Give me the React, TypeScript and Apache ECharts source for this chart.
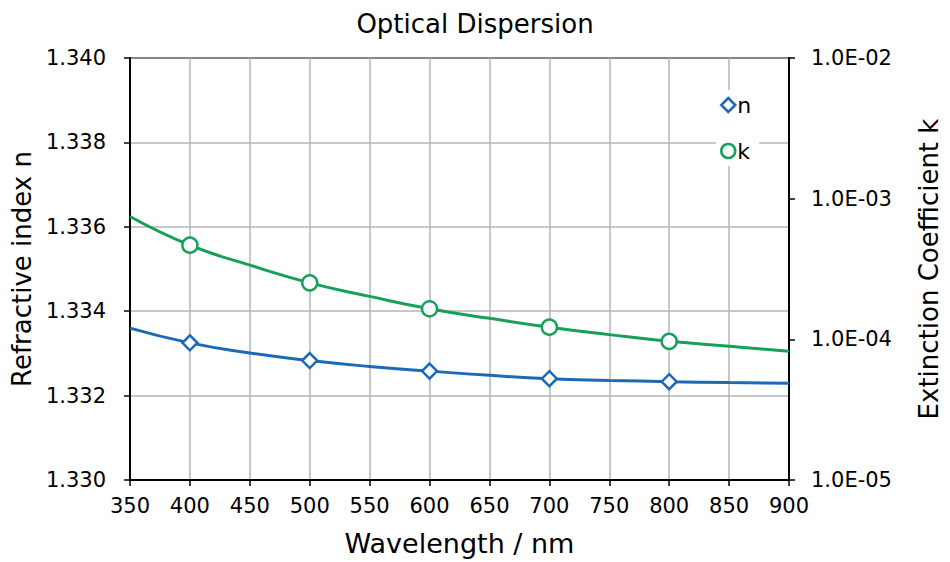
import React, { useEffect, useRef } from "react";
import * as echarts from "echarts";

const wavelengths = [350, 400, 450, 500, 550, 600, 650, 700, 750, 800, 850, 900];
const nValues = [1.3336, 1.33325, 1.33301, 1.33283, 1.33269, 1.33258, 1.33248, 1.3324, 1.33236, 1.33233, 1.33231, 1.33229];
const kValues = [7.47e-4, 4.67e-4, 3.37e-4, 2.52e-4, 2.02e-4, 1.65e-4, 1.41e-4, 1.22e-4, 1.08e-4, 9.68e-5, 8.93e-5, 8.22e-5];
const markedWavelengths = [400, 500, 600, 700, 800];

const BLUE = "#1c69b6";
const GREEN = "#17a057";
const FONT = "'DejaVu Sans', Verdana, sans-serif";

export default function App() {
  const ref = useRef<HTMLDivElement>(null);
  useEffect(() => {
    if (!ref.current) return;
    const chart = echarts.init(ref.current, undefined, { renderer: "svg" });
    const mk = (vals: number[]) =>
      wavelengths.map((w, i) =>
        markedWavelengths.includes(w) ? { value: [w, vals[i]] } : { value: [w, vals[i]], symbol: "none" }
      );
    chart.setOption({
      animation: false,
      backgroundColor: "#fff",
      textStyle: { fontFamily: FONT, color: "#000" },
      title: {
        text: "Optical Dispersion",
        left: "center",
        top: 6,
        textStyle: { fontFamily: FONT, fontSize: 26, fontWeight: "normal", color: "#000" },
      },
      grid: {
        left: 130,
        right: 155,
        top: 58,
        bottom: 78,
        show: true,
        borderColor: "#000",
        borderWidth: 2,
      },
      legend: {
        orient: "vertical",
        left: 716,
        top: 90,
        itemGap: 24,
        itemWidth: 14,
        itemHeight: 14,
        backgroundColor: "#fff",
        padding: [4, 8, 4, 4],
        textStyle: { fontFamily: FONT, fontSize: 22, color: "#000", padding: [0, 0, 0, -3] },
        data: [
          { name: "n", icon: "diamond", itemStyle: { color: "#fff", borderColor: BLUE, borderWidth: 2.5 } },
          { name: "k", icon: "circle", itemStyle: { color: "#fff", borderColor: GREEN, borderWidth: 2.5 } },
        ],
      },
      xAxis: {
        type: "value",
        min: 350,
        max: 900,
        interval: 50,
        name: "Wavelength / nm",
        nameLocation: "middle",
        nameGap: 50,
        nameTextStyle: { fontFamily: FONT, fontSize: 27, color: "#000" },
        axisLine: { lineStyle: { color: "#000", width: 2 } },
        axisTick: { show: true, length: 6, lineStyle: { color: "#000", width: 1.5 } },
        axisLabel: { fontFamily: FONT, fontSize: 21, color: "#000", margin: 15 },
        splitLine: { show: true, lineStyle: { color: "#b4b4b4", width: 1.5 } },
      },
      yAxis: [
        {
          type: "value",
          min: 1.33,
          max: 1.34,
          interval: 0.002,
          name: "Refractive index n",
          nameLocation: "middle",
          nameGap: 92,
          nameTextStyle: { fontFamily: FONT, fontSize: 26, color: "#000" },
          axisLine: { show: true, lineStyle: { color: "#000", width: 2 } },
          axisTick: { show: true, length: 6, lineStyle: { color: "#000", width: 1.5 } },
          axisLabel: {
            fontFamily: FONT,
            fontSize: 21,
            color: "#000",
            margin: 24,
            formatter: (v: number) => v.toFixed(3),
          },
          splitLine: { show: true, lineStyle: { color: "#b4b4b4", width: 1.5 } },
        },
        {
          type: "log",
          logBase: 10,
          min: 1e-5,
          max: 1e-2,
          position: "right",
          name: "Extinction Coefficient k",
          nameLocation: "middle",
          nameGap: 127,
          nameRotate: 90,
          nameTextStyle: { fontFamily: FONT, fontSize: 26, color: "#000" },
          axisLine: { show: true, lineStyle: { color: "#000", width: 2 } },
          axisTick: { show: true, length: 6, lineStyle: { color: "#000", width: 1.5 } },
          axisLabel: {
            fontFamily: FONT,
            fontSize: 21,
            color: "#000",
            margin: 22,
            formatter: (v: number) => {
              const e = Math.round(Math.log10(v));
              const m = v / Math.pow(10, e);
              const sign = e < 0 ? "-" : "+";
              return m.toFixed(1) + "E" + sign + String(Math.abs(e)).padStart(2, "0");
            },
          },
          splitLine: { show: false },
        },
      ],
      series: [
        {
          name: "n",
          type: "line",
          yAxisIndex: 0,
          smooth: true,
          symbol: "diamond",
          symbolSize: 15,
          showAllSymbol: true,
          lineStyle: { color: BLUE, width: 3 },
          itemStyle: { color: "#fff", borderColor: BLUE, borderWidth: 2.5 },
          data: mk(nValues),
          z: 3,
        },
        {
          name: "k",
          type: "line",
          yAxisIndex: 1,
          smooth: true,
          symbol: "circle",
          symbolSize: 15,
          showAllSymbol: true,
          lineStyle: { color: GREEN, width: 3 },
          itemStyle: { color: "#fff", borderColor: GREEN, borderWidth: 2.5 },
          data: mk(kValues),
          z: 3,
        },
      ],
    });
    return () => chart.dispose();
  }, []);
  return (
    <div
      ref={ref}
      style={{ position: "fixed", left: 0, top: 0, width: 950, height: 562 }}
    />
  );
}
